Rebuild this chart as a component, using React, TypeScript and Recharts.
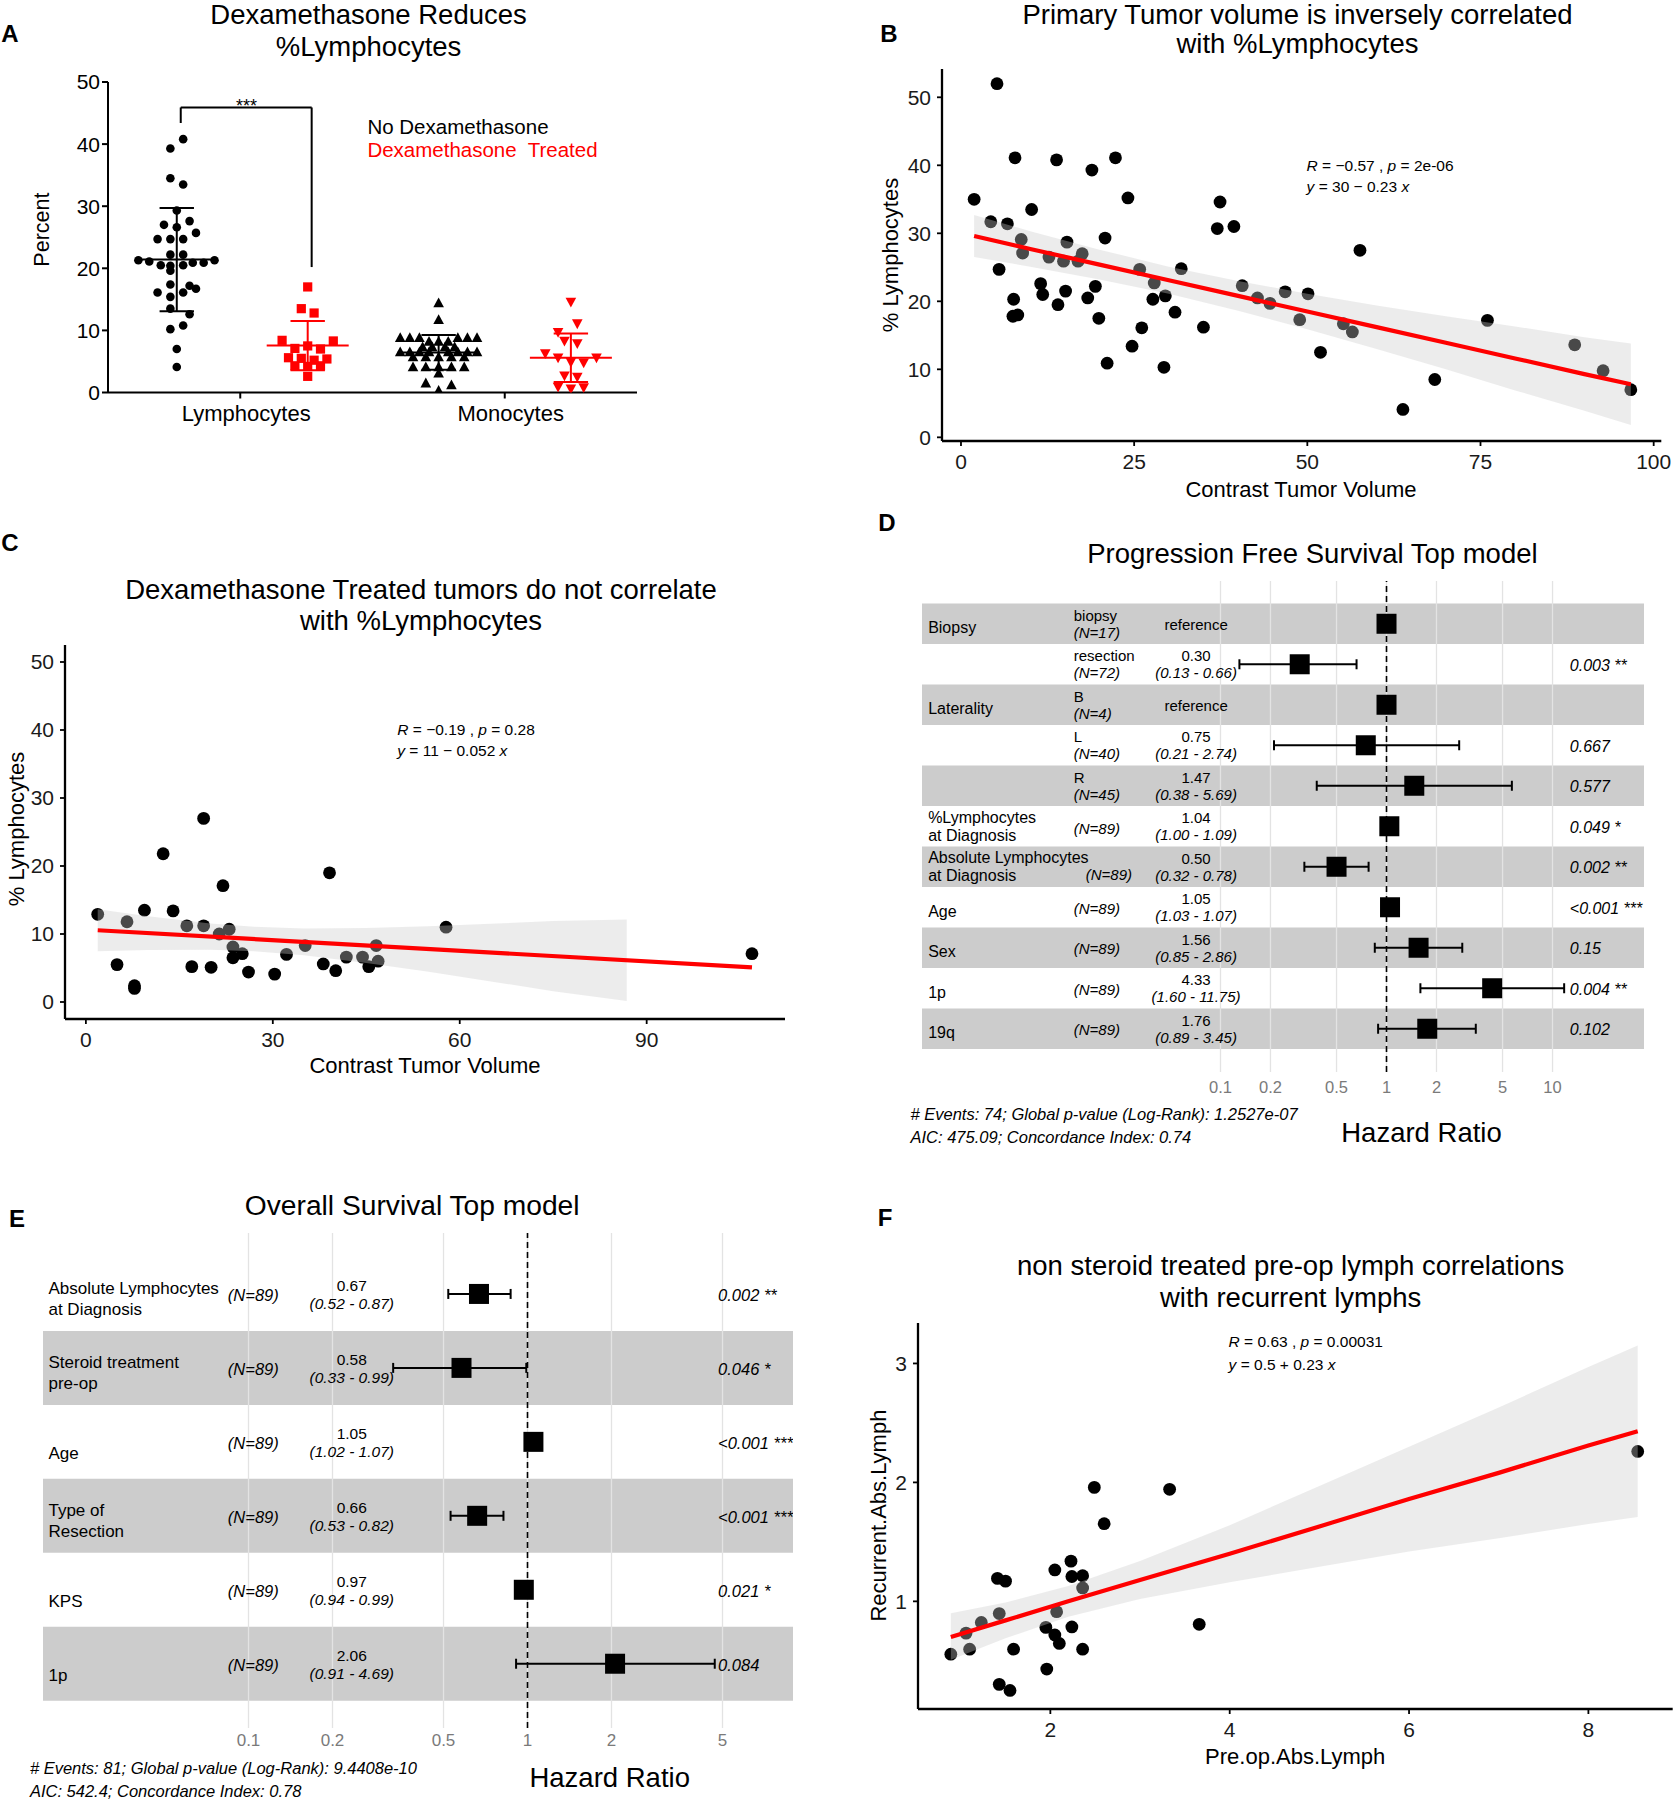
import React from 'react';
import {
  ComposedChart, Scatter, Line, Area, XAxis, YAxis,
  ReferenceLine, ReferenceArea, ErrorBar,
} from 'recharts';

const FONT = '"Liberation Sans", Arial, Helvetica, sans-serif';

/* ---------------- Panel A data ---------------- */
const aCategoryLabels = ['Lymphocytes', 'Monocytes'];
const aCategoryTicks = [1, 3];
const aYTicks = [0, 10, 20, 30, 40, 50];
const lymphNoDex = [40.8, 39.3, 34.5, 33.5, 29.3, 27.6, 27.0, 26.6, 25.7, 24.7, 24.7, 24.7, 22.2, 22.2, 21.3, 21.1, 20.5, 20.4, 20.5, 20.9, 20.9, 21.3, 19.6, 17.4, 17.2, 16.7, 16.1, 16.1, 15.4, 13.5, 12.6, 10.2, 10.8, 7.0, 4.1];
const lymphNoDexSpread = [1, -1, -1, 1, 0, 2, -2, 0, 3, -3, -1, 1, -1, 1, -6, -4.3, -2.5, -1, 1, 2.5, 4.2, 5.9, -1, -1, 2, 3, -3, 1, -1, -1, 2, -1, 1, 0, 0];
const lymphDex = [17.0, 13.5, 12.8, 8.4, 8.3, 7.1, 7.0, 7.5, 5.6, 5.5, 5.2, 5.4, 4.3, 4.2, 4.3, 2.6];
const lymphDexSpread = [0, -1, 1, -4, 4, -2, 2, 0, -3, -1, 1, 3, -2, 0, 2, 0];
const monoNoDex = [14.4, 11.7, 8.8, 8.8, 8.8, 8.8, 8.8, 8.8, 8.2, 8.2, 8.2, 7.3, 7.3, 7.3, 7.3, 6.5, 6.5, 6.5, 6.5, 6.5, 6.5, 6.5, 6.5, 5.7, 5.7, 5.7, 5.7, 5.7, 4.1, 4.1, 4.1, 4.1, 4.1, 3.1, 1.5, 1.2, 0.3];
const monoNoDexSpread = [0, 0, -6, -4.5, -3, 3, 4.5, 6, -1.5, 0, 1.5, -2.5, -1, 1, 2.5, -6, -4.5, -3, -1.5, 1.5, 3, 4.5, 6, -4, -2, 0, 2, 4, -4, -2, 0, 2, 4, 0, -2, 2, 0];
const monoDex = [14.6, 11.1, 9.7, 8.3, 7.9, 6.3, 5.6, 5.6, 4.9, 4.8, 2.7, 2.5, 0.9, 0.6, 0.8];
const monoDexSpread = [0, 1, -2, -1, 1, -4, -2, 4, 0, 2, -1, 1, -2, 0, 2];
const aMeans = [21.4, 7.55, 6.45, 5.6];
const aSDs = [8.3, 3.95, 2.8, 3.9];
const bracketHeights = [43.4, 45.9, 20.2];

/* ---------------- Panel B data ---------------- */
const bVolume = [1.9, 4.3, 6.7, 5.2, 5.5, 7.8, 7.6, 7.5, 8.2, 8.7, 8.9, 10.2, 11.5, 11.8, 12.7, 13.8, 14.0, 14.8, 15.3, 15.1, 16.9, 17.5, 18.3, 18.9, 19.4, 19.9, 20.8, 21.1, 22.3, 24.1, 24.7, 25.8, 26.1, 27.9, 27.7, 29.5, 29.3, 30.9, 31.8, 35.0, 37.0, 37.4, 39.4, 40.6, 42.8, 44.6, 46.8, 48.9, 50.1, 51.9, 55.2, 56.5, 57.6, 63.8, 68.4, 76.0, 88.6, 92.7, 96.7];
const bLymph = [35.0, 31.7, 31.4, 52.0, 24.7, 41.1, 20.3, 17.8, 18.0, 29.1, 27.1, 33.5, 22.6, 21.0, 26.5, 40.8, 19.5, 25.9, 28.7, 21.5, 25.9, 27.0, 20.5, 39.3, 22.2, 17.5, 29.3, 10.9, 41.1, 35.2, 13.4, 24.7, 16.1, 22.7, 20.3, 20.8, 10.3, 18.4, 24.8, 16.2, 30.7, 34.6, 31.0, 22.3, 20.5, 19.7, 21.4, 17.3, 21.1, 12.5, 16.7, 15.5, 27.5, 4.1, 8.5, 17.2, 13.6, 9.8, 7.0];
const bFitX = [1.9, 10, 20, 30, 40, 50, 60, 70, 80, 90, 96.7];
const bFitY = [29.6, 27.7, 25.4, 23.1, 20.8, 18.5, 16.2, 13.9, 11.6, 9.3, 7.8];
const bBandLow = [26.5, 25.1, 23.2, 21.1, 18.6, 15.9, 13.0, 10.0, 6.9, 3.9, 1.8];
const bBandHigh = [32.7, 30.3, 27.6, 25.1, 23.0, 21.1, 19.4, 17.8, 16.3, 14.7, 13.8];
const bXTicks = [0, 25, 50, 75, 100];
const bYTicks = [0, 10, 20, 30, 40, 50];

/* ---------------- Panel C data ---------------- */
const cVolume = [1.9, 5.0, 6.6, 7.8, 7.8, 9.4, 12.4, 14.0, 16.2, 17.0, 18.9, 18.9, 20.1, 21.4, 22.0, 23.0, 23.6, 23.6, 25.1, 26.1, 30.3, 32.2, 35.2, 38.1, 39.1, 40.1, 41.8, 44.4, 45.4, 46.6, 46.9, 57.8, 106.9];
const cLymph = [12.9, 5.5, 11.8, 2.4, 2.0, 13.5, 21.8, 13.4, 11.2, 5.2, 27.0, 11.2, 5.1, 10.0, 17.1, 10.7, 8.1, 6.5, 7.1, 4.4, 4.1, 7.0, 8.3, 5.6, 19.0, 4.6, 6.6, 6.6, 5.2, 8.3, 6.0, 11.0, 7.1];
const cFitX = [1.9, 106.9];
const cFitY = [10.55, 5.1];
const cBandX = [1.9, 10, 20, 27, 35, 45, 55, 65, 75, 86.8];
const cBandLow = [7.45, 7.64, 7.68, 7.45, 6.86, 5.75, 4.44, 3.03, 1.58, 0.15];
const cBandHigh = [13.65, 12.62, 11.54, 11.05, 10.80, 10.87, 11.14, 11.51, 11.92, 12.15];
const cXTicks = [0, 30, 60, 90];
const cYTicks = [0, 10, 20, 30, 40, 50];

/* ---------------- Panel F data ---------------- */
const fPreOp = [0.89, 1.06, 1.10, 1.23, 1.41, 1.50, 1.43, 1.43, 1.55, 1.59, 1.95, 1.96, 2.05, 2.05, 2.07, 2.10, 2.23, 2.24, 2.24, 2.36, 2.36, 2.36, 2.49, 2.60, 3.33, 3.66, 8.55];
const fRecurrent = [0.556, 0.733, 0.598, 0.823, 1.193, 1.170, 0.897, 0.302, 0.251, 0.598, 0.781, 0.431, 1.264, 0.717, 0.913, 0.646, 1.338, 1.209, 0.785, 1.215, 1.113, 0.598, 1.958, 1.653, 1.942, 0.807, 2.26];
const fFitX = [0.89, 1.5, 2.2, 3, 4, 5, 6, 7, 8, 8.55];
const fFitY = [0.70, 0.84, 1.00, 1.18, 1.40, 1.63, 1.86, 2.08, 2.31, 2.43];
const fBandLow = [0.51, 0.69, 0.87, 1.02, 1.16, 1.29, 1.42, 1.53, 1.65, 1.71];
const fBandHigh = [0.90, 0.99, 1.13, 1.34, 1.64, 1.97, 2.30, 2.63, 2.97, 3.15];
const fXTicks = [2, 4, 6, 8];
const fYTicks = [1, 2, 3];

/* ---------------- Panel D data (PFS) ---------------- */
const pfsVariables = ['Biopsy', '', 'Laterality', '', '', '%Lymphocytes\nat Diagnosis', 'Absolute Lymphocytes\nat Diagnosis', 'Age', 'Sex', '1p', '19q'];
const pfsLevels = ['biopsy', 'resection', 'B', 'L', 'R', '', '', '', '', '', ''];
const pfsN = [17, 72, 4, 40, 45, 89, 89, 89, 89, 89, 89];
const pfsHR = [1, 0.30, 1, 0.75, 1.47, 1.04, 0.50, 1.05, 1.56, 4.33, 1.76];
const pfsLower = [null, 0.13, null, 0.21, 0.38, 1.00, 0.32, 1.03, 0.85, 1.60, 0.89];
const pfsUpper = [null, 0.66, null, 2.74, 5.69, 1.09, 0.78, 1.07, 2.86, 11.75, 3.45];
const pfsPValues = ['', '0.003 **', '', '0.667', '0.577', '0.049 *', '0.002 **', '<0.001 ***', '0.15', '0.004 **', '0.102'];
const pfsShaded = [true, false, true, false, true, false, true, false, true, false, true];
const pfsTicks = [0.1, 0.2, 0.5, 1, 2, 5, 10];
const pfsTickLabels = ['0.1', '0.2', '0.5', '1', '2', '5', '10'];

/* ---------------- Panel E data (OS) ---------------- */
const osVariables = ['Absolute Lymphocytes\nat Diagnosis', 'Steroid treatment\npre-op', 'Age', 'Type of\nResection', 'KPS', '1p'];
const osN = [89, 89, 89, 89, 89, 89];
const osHR = [0.67, 0.58, 1.05, 0.66, 0.97, 2.06];
const osLower = [0.52, 0.33, 1.02, 0.53, 0.94, 0.91];
const osUpper = [0.87, 0.99, 1.07, 0.82, 0.99, 4.69];
const osPValues = ['0.002 **', '0.046 *', '<0.001 ***', '<0.001 ***', '0.021 *', '0.084'];
const osShaded = [false, true, false, true, false, true];
const osTicks = [0.1, 0.2, 0.5, 1, 2, 5];
const osTickLabels = ['0.1', '0.2', '0.5', '1', '2', '5'];

/* ---------------- helpers ---------------- */
const toPoints = (xs: number[], ys: number[]) => xs.map((x, i) => ({ x, y: ys[i] }));
const toBand = (xs: number[], lo: number[], hi: number[]) => xs.map((x, i) => ({ x, band: [lo[i], hi[i]] }));

const dotShape = (r: number, fill: string) => (p: any) => <circle cx={p.cx} cy={p.cy} r={r} fill={fill} />;
const squareShape = (s: number, fill: string) => (p: any) => <rect x={p.cx - s / 2} y={p.cy - s / 2} width={s} height={s} fill={fill} />;
const triUpShape = (fill: string) => (p: any) => (
  <polygon points={`${p.cx},${p.cy - 5.6} ${p.cx - 5.3},${p.cy + 4.2} ${p.cx + 5.3},${p.cy + 4.2}`} fill={fill} />
);
const triDownShape = (fill: string) => (p: any) => (
  <polygon points={`${p.cx - 5.3},${p.cy - 4.2} ${p.cx + 5.3},${p.cy - 4.2} ${p.cx},${p.cy + 5.6}`} fill={fill} />
);
const textShape = (anchor: string, fs: number) => (p: any) => {
  const lines = (p.payload && p.payload.lines) || [];
  return (
    <g>
      {lines.map((ln: any, k: number) => (
        <text key={k} x={p.cx + (ln.dx || 0)} y={p.cy + ln.dy} textAnchor={anchor} dominantBaseline="central"
          fontSize={fs} fontFamily={FONT} fontStyle={ln.it ? 'italic' : 'normal'} fill="#000">{ln.t}</text>
      ))}
    </g>
  );
};

/* ---------------- Panel A ---------------- */
function PanelA() {
  const L = 108, R = 637, T = 81.5, B = 392, YW = 60, XH = 45, MT = 20, MR = 10;
  const GX = [0.52, 1.51, 2.5, 3.5];
  const SLOT = 0.0484;
  const mk = (vals: number[], spread: number[], g: number) => vals.map((v, i) => ({ x: GX[g] + spread[i] * SLOT, y: v }));
  const colors = ['#000000', '#ff0000', '#000000', '#ff0000'];
  const MW = 0.31, CW = 0.13;
  const summaryLines = aMeans.flatMap((m, g) => {
    const s = aSDs[g];
    const gx = GX[g];
    const c = colors[g];
    const segs = [
      [{ x: gx - MW, y: m }, { x: gx + MW, y: m }],
      [{ x: gx, y: m - s }, { x: gx, y: m + s }],
      [{ x: gx - CW, y: m + s }, { x: gx + CW, y: m + s }],
      [{ x: gx - CW, y: m - s }, { x: gx + CW, y: m - s }],
    ];
    return segs.map((sg, k) => (
      <ReferenceLine key={`s${g}-${k}`} segment={sg} stroke={c} strokeWidth={2} zIndex={700} />
    ));
  });
  const bx = [0.55, 1.54];
  const bracket = [
    [{ x: bx[0], y: bracketHeights[0] }, { x: bx[0], y: bracketHeights[1] }],
    [{ x: bx[0], y: bracketHeights[1] }, { x: bx[1], y: bracketHeights[1] }],
    [{ x: bx[1], y: bracketHeights[1] }, { x: bx[1], y: bracketHeights[2] }],
  ].map((sg, k) => <ReferenceLine key={`b${k}`} segment={sg} stroke="#000" strokeWidth={2} zIndex={700} />);
  return (
    <div style={{ position: 'absolute', left: L - YW, top: T - MT }}>
      <ComposedChart width={R - L + YW + MR} height={B - T + MT + XH} margin={{ top: MT, right: MR, bottom: 0, left: 0 }}>
        <XAxis type="number" dataKey="x" domain={[0, 4]} allowDataOverflow ticks={aCategoryTicks} interval={0}
          tickFormatter={(v: number) => aCategoryLabels[aCategoryTicks.indexOf(v)] ?? ''}
          height={XH} tickSize={6} tickMargin={7}
          axisLine={{ stroke: '#000', strokeWidth: 2 }} tickLine={{ stroke: '#000', strokeWidth: 2 }}
          tick={{ fill: '#000', fontSize: 22, fontFamily: FONT, dx: 6 }} />
        <YAxis type="number" dataKey="y" domain={[0, 50]} allowDataOverflow ticks={aYTicks} interval={0}
          width={YW} tickSize={6} tickMargin={2}
          axisLine={{ stroke: '#000', strokeWidth: 2 }} tickLine={{ stroke: '#000', strokeWidth: 2 }}
          tick={{ fill: '#000', fontSize: 21, fontFamily: FONT }} />
        <Scatter data={mk(lymphNoDex, lymphNoDexSpread, 0)} shape={dotShape(4.3, '#000')} isAnimationActive={false} />
        <Scatter data={mk(lymphDex, lymphDexSpread, 1)} shape={squareShape(9.2, '#ff0000')} isAnimationActive={false} />
        <Scatter data={mk(monoNoDex, monoNoDexSpread, 2)} shape={triUpShape('#000')} isAnimationActive={false} />
        <Scatter data={mk(monoDex, monoDexSpread, 3)} shape={triDownShape('#ff0000')} isAnimationActive={false} />
        {summaryLines}
        {bracket}
      </ComposedChart>
    </div>
  );
}

/* ---------------- correlation panels (B, C, F) ---------------- */
function CorrPanel(props: any) {
  const { L, R, T, B, xDomain, yDomain, xTicks, yTicks, points, band, fit } = props;
  const YW = 60, XH = 45, MT = 20;
  const MR = Math.max(0, Math.min(10, 1673 - R));
  return (
    <div style={{ position: 'absolute', left: L - YW, top: T - MT }}>
      <ComposedChart width={R - L + YW + MR} height={B - T + MT + XH} margin={{ top: MT, right: MR, bottom: 0, left: 0 }}>
        <XAxis type="number" dataKey="x" domain={xDomain} allowDataOverflow ticks={xTicks} interval={0}
          height={XH} tickSize={5} tickMargin={8}
          axisLine={{ stroke: '#000', strokeWidth: 2.3 }} tickLine={{ stroke: '#000', strokeWidth: 1.8 }}
          tick={{ fill: '#1a1a1a', fontSize: 21, fontFamily: FONT }} />
        <YAxis type="number" dataKey="y" domain={yDomain} allowDataOverflow ticks={yTicks} interval={0}
          width={YW} tickSize={5} tickMargin={6}
          axisLine={{ stroke: '#000', strokeWidth: 2.3 }} tickLine={{ stroke: '#000', strokeWidth: 1.8 }}
          tick={{ fill: '#1a1a1a', fontSize: 21, fontFamily: FONT }} />
        <Scatter data={points} shape={dotShape(6.4, '#000')} isAnimationActive={false} zIndex={300} />
        <Area data={band} dataKey="band" type="linear" stroke="none" fill="#cbcbcb" fillOpacity={0.36}
          isAnimationActive={false} activeDot={false} dot={false} zIndex={700} />
        <Line data={fit} dataKey="y" type="linear" stroke="#ff0000" strokeWidth={4.2} dot={false}
          activeDot={false} isAnimationActive={false} zIndex={800} />
      </ComposedChart>
    </div>
  );
}

/* ---------------- forest panels (D, E) ---------------- */
function ForestPanel(props: any) {
  const { L, R, T, B, xDomain, yMax, bottomPad, rows, cols, fonts, box, tickVals, tickLabels, tickFs, tickMargin, offs } = props;
  const XH = 40;
  const n = rows.length;
  const rowY = (i: number) => bottomPad + (n - 1 - i);
  const lg = Math.log10;
  const logTicks = tickVals.map((t: number) => lg(t));
  const boxes = rows.map((r: any, i: number) => {
    const c = lg(r.hr);
    const lo = r.lower == null ? c : lg(r.lower);
    const hi = r.upper == null ? c : lg(r.upper);
    return { x: c, y: rowY(i), err: [c - lo, hi - c] };
  });
  const varCells = rows.map((r: any, i: number) => {
    const parts = r.variable ? r.variable.split('\n') : [];
    const dys = parts.length > 1 ? offs.var2 : offs.var1;
    return { x: cols.variable, y: rowY(i), lines: parts.map((t: string, k: number) => ({ t, dy: dys[k], it: false })) };
  });
  const levelCells = rows.map((r: any, i: number) => {
    const lines: any[] = [];
    if (r.level) {
      lines.push({ t: r.level, dy: offs.level[0], it: false });
      lines.push({ t: `(N=${r.n})`, dy: offs.level[1], it: true });
    } else {
      const parts = (r.variable || '').split('\n');
      const wide = parts.length > 1 && parts[0].length >= 18;
      lines.push({ t: `(N=${r.n})`, dy: wide ? offs.nWide[1] : (parts.length > 1 ? offs.n2 : offs.n1), dx: wide ? offs.nWide[0] : 0, it: true });
    }
    return { x: cols.level, y: rowY(i), lines };
  });
  const estCells = rows.map((r: any, i: number) => {
    if (r.lower == null) return { x: cols.est, y: rowY(i), lines: [{ t: 'reference', dy: offs.ref, it: false }] };
    return {
      x: cols.est, y: rowY(i), lines: [
        { t: r.hr.toFixed(2), dy: offs.est[0], it: false },
        { t: `(${r.lower.toFixed(2)} - ${r.upper.toFixed(2)})`, dy: offs.est[1], it: true },
      ],
    };
  });
  const pCells = rows.map((r: any, i: number) => ({ x: cols.p, y: rowY(i), lines: r.p ? [{ t: r.p, dy: offs.p, it: true }] : [] }));
  const boxShape = (p: any) => <rect x={p.cx - box / 2} y={p.cy - box / 2} width={box} height={box} fill="#000" />;
  return (
    <div style={{ position: 'absolute', left: L, top: T }}>
      <ComposedChart width={R - L} height={B - T + XH} margin={{ top: 0, right: 0, bottom: 0, left: 0 }}>
        <XAxis type="number" dataKey="x" domain={xDomain} allowDataOverflow ticks={logTicks} interval={0}
          tickFormatter={(v: number) => tickLabels[logTicks.indexOf(v)] ?? ''}
          axisLine={false} tickLine={false} tickSize={0} tickMargin={tickMargin} height={XH}
          tick={{ fill: '#7a7a7a', fontSize: tickFs, fontFamily: FONT }} />
        <YAxis type="number" dataKey="y" domain={[0, yMax]} allowDataOverflow hide />
        {rows.map((r: any, i: number) => (r.shaded ? (
          <ReferenceArea key={`band${i}`} x1={xDomain[0]} x2={xDomain[1]} y1={rowY(i) - 0.5} y2={rowY(i) + 0.5}
            fill="#cccccc" fillOpacity={1} stroke="none" ifOverflow="visible" zIndex={50} />
        ) : null))}
        {logTicks.map((t: number, k: number) => (
          <ReferenceLine key={`grid${k}`} x={t} stroke="#e3e3e3" strokeWidth={1.3} zIndex={60} />
        ))}
        <ReferenceLine x={0} stroke="#000" strokeWidth={1.6} strokeDasharray="6 4" zIndex={70} />
        <Scatter data={boxes} shape={boxShape} isAnimationActive={false} zIndex={600}>
          <ErrorBar dataKey="err" direction="x" width={5} stroke="#000" strokeWidth={2} />
        </Scatter>
        <Scatter data={varCells} shape={textShape('start', fonts.variable)} isAnimationActive={false} zIndex={600} />
        <Scatter data={levelCells} shape={textShape('start', fonts.level)} isAnimationActive={false} zIndex={600} />
        <Scatter data={estCells} shape={textShape('middle', fonts.est)} isAnimationActive={false} zIndex={600} />
        <Scatter data={pCells} shape={textShape('start', fonts.p)} isAnimationActive={false} zIndex={600} />
      </ComposedChart>
    </div>
  );
}

/* ---------------- overlay text ---------------- */
function Txt(props: any) {
  const { x, y, size, anchor = 'middle', weight = 'normal', italic = false, color = '#000', rotate = 0, children, pre = false } = props;
  return (
    <text x={x} y={y} fontSize={size} fontFamily={FONT} textAnchor={anchor} dominantBaseline="central"
      fontWeight={weight} fontStyle={italic ? 'italic' : 'normal'} fill={color}
      transform={rotate ? `rotate(${rotate} ${x} ${y})` : undefined}
      style={pre ? { whiteSpace: 'pre' } : undefined}>{children}</text>
  );
}

function Overlay() {
  const it = (s: string) => <tspan fontStyle="italic">{s}</tspan>;
  const TS = 27.5;
  return (
    <svg width={1673} height={1800} style={{ position: 'absolute', left: 0, top: 0, pointerEvents: 'none' }}>
      {/* panel letters */}
      <Txt x={10} y={33} size={24} weight="bold">A</Txt>
      <Txt x={889} y={33} size={24} weight="bold">B</Txt>
      <Txt x={10} y={542} size={24} weight="bold">C</Txt>
      <Txt x={887} y={522} size={24} weight="bold">D</Txt>
      <Txt x={17} y={1218} size={24} weight="bold">E</Txt>
      <Txt x={885} y={1217} size={24} weight="bold">F</Txt>

      {/* Panel A */}
      <Txt x={368.6} y={14} size={TS}>Dexamethasone Reduces</Txt>
      <Txt x={368.6} y={46} size={TS}>%Lymphocytes</Txt>
      <Txt x={42.5} y={229.6} size={21.5} rotate={-90}>Percent</Txt>
      <Txt x={367.4} y={126} size={20.5} anchor="start">No Dexamethasone</Txt>
      <Txt x={367.4} y={149} size={20.5} anchor="start" color="#ff0000" pre>{'Dexamethasone  Treated'}</Txt>
      <Txt x={246.5} y={105.5} size={18}>***</Txt>

      {/* Panel B */}
      <Txt x={1297.5} y={14} size={TS}>Primary Tumor volume is inversely correlated</Txt>
      <Txt x={1297.5} y={43} size={TS}>with %Lymphocytes</Txt>
      <Txt x={890} y={255} size={22} rotate={-90}>% Lymphocytes</Txt>
      <Txt x={1301} y={489} size={22}>Contrast Tumor Volume</Txt>
      <Txt x={1306.6} y={165.3} size={15.5} anchor="start">{it('R')}{' = \u22120.57 , '}{it('p')}{' = 2e-06'}</Txt>
      <Txt x={1306.6} y={186} size={15.5} anchor="start">{it('y')}{' = 30 \u2212 0.23 '}{it('x')}</Txt>

      {/* Panel C */}
      <Txt x={421} y={589} size={TS}>Dexamethasone Treated tumors do not correlate</Txt>
      <Txt x={421} y={620} size={TS}>with %Lymphocytes</Txt>
      <Txt x={16} y={829} size={22} rotate={-90}>% Lymphocytes</Txt>
      <Txt x={425} y={1065.5} size={22}>Contrast Tumor Volume</Txt>
      <Txt x={397.3} y={729} size={15.5} anchor="start">{it('R')}{' = \u22120.19 , '}{it('p')}{' = 0.28'}</Txt>
      <Txt x={397.3} y={750} size={15.5} anchor="start">{it('y')}{' = 11 \u2212 0.052 '}{it('x')}</Txt>

      {/* Panel D */}
      <Txt x={1312.4} y={553.4} size={27.5}>Progression Free Survival Top model</Txt>
      <Txt x={1421.5} y={1132} size={27.5}>Hazard Ratio</Txt>
      <Txt x={910.5} y={1113.8} size={16.5} anchor="start" italic># Events: 74; Global p-value (Log-Rank): 1.2527e-07</Txt>
      <Txt x={910.5} y={1136.7} size={16.5} anchor="start" italic>AIC: 475.09; Concordance Index: 0.74</Txt>

      {/* Panel E */}
      <Txt x={412.2} y={1204.5} size={28.2}>Overall Survival Top model</Txt>
      <Txt x={609.7} y={1777.4} size={27.5}>Hazard Ratio</Txt>
      <Txt x={29.9} y={1768.2} size={16.5} anchor="start" italic># Events: 81; Global p-value (Log-Rank): 9.4408e-10</Txt>
      <Txt x={29.9} y={1790.5} size={16.5} anchor="start" italic>AIC: 542.4; Concordance Index: 0.78</Txt>

      {/* Panel F */}
      <Txt x={1290.6} y={1265.3} size={TS}>non steroid treated pre-op lymph correlations</Txt>
      <Txt x={1290.6} y={1297.5} size={TS}>with recurrent lymphs</Txt>
      <Txt x={878.4} y={1515.6} size={22} rotate={-90}>Recurrent.Abs.Lymph</Txt>
      <Txt x={1295.2} y={1756.7} size={22}>Pre.op.Abs.Lymph</Txt>
      <Txt x={1228.6} y={1341} size={15.5} anchor="start">{it('R')}{' = 0.63 , '}{it('p')}{' = 0.00031'}</Txt>
      <Txt x={1228.6} y={1364} size={15.5} anchor="start">{it('y')}{' = 0.5 + 0.23 '}{it('x')}</Txt>
    </svg>
  );
}

export default function App() {
  const pfsRows = pfsHR.map((hr, i) => ({
    variable: pfsVariables[i], level: pfsLevels[i], n: pfsN[i], hr,
    lower: pfsLower[i], upper: pfsUpper[i], p: pfsPValues[i], shaded: pfsShaded[i],
  }));
  const osRows = osHR.map((hr, i) => ({
    variable: osVariables[i], level: '', n: osN[i], hr,
    lower: osLower[i], upper: osUpper[i], p: osPValues[i], shaded: osShaded[i],
  }));
  return (
    <div style={{ position: 'absolute', left: 0, top: 0, width: 1673, height: 1800, background: '#fff', overflow: 'hidden', fontFamily: FONT }}>
      <PanelA />
      <CorrPanel L={941.7} R={1661} T={69} B={441} xDomain={[-2.74, 101.1]} yDomain={[-0.54, 54.16]}
        xTicks={bXTicks} yTicks={bYTicks} points={toPoints(bVolume, bLymph)}
        band={toBand(bFitX, bBandLow, bBandHigh)} fit={toPoints(bFitX, bFitY)} />
      <CorrPanel L={65} R={785} T={645} B={1019} xDomain={[-3.35, 112.2]} yDomain={[-2.5, 52.5]}
        xTicks={cXTicks} yTicks={cYTicks} points={toPoints(cVolume, cLymph)}
        band={toBand(cBandX, cBandLow, cBandHigh)} fit={toPoints(cFitX, cFitY)} />
      <CorrPanel L={918.3} R={1673} T={1322.7} B={1708.7} xDomain={[0.524, 8.94]} yDomain={[0.095, 3.34]}
        xTicks={fXTicks} yTicks={fYTicks} points={toPoints(fPreOp, fRecurrent)}
        band={toBand(fFitX, fBandLow, fBandHigh)} fit={toPoints(fFitX, fFitY)} />
      <ForestPanel L={922} R={1644} T={581} B={1072} xDomain={[-2.798, 1.551]} yMax={12.124} bottomPad={1.068}
        rows={pfsRows} cols={{ variable: -2.761, level: -1.884, est: -1.147, p: 1.104 }}
        fonts={{ variable: 16, level: 15, est: 15, p: 16 }} box={20}
        tickVals={pfsTicks} tickLabels={pfsTickLabels} tickFs={16.5} tickMargin={9}
        offs={{ var1: [4], var2: [-9, 9], level: [-8.5, 8.5], n1: 1, n2: 2, nWide: [12, 8], ref: 1, est: [-8.5, 8.5], p: 1 }} />
      <ForestPanel L={42.5} R={793} T={1233} B={1728} xDomain={[-1.7366, 0.9534]} yMax={6.693} bottomPad={0.869}
        rows={osRows} cols={{ variable: -1.717, level: -1.074, est: -0.630, p: 0.683 }}
        fonts={{ variable: 17, level: 16.5, est: 15.5, p: 16.5 }} box={20}
        tickVals={osTicks} tickLabels={osTickLabels} tickFs={17} tickMargin={6}
        offs={{ var1: [12], var2: [-5, 16], level: [-6, 8], n1: 1, n2: 1, nWide: [0, 1], ref: 1, est: [-8, 9.5], p: 1 }} />
      <Overlay />
    </div>
  );
}
